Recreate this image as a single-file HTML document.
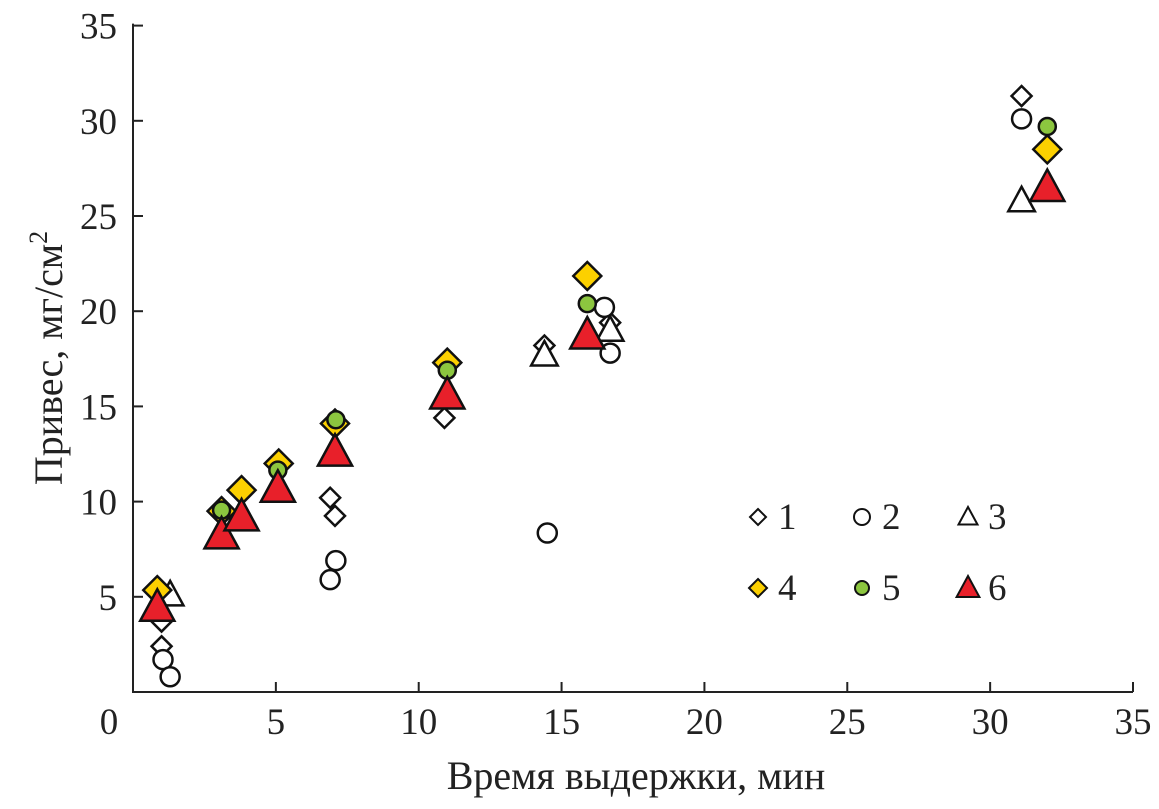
<!DOCTYPE html>
<html><head><meta charset="utf-8"><style>
body{margin:0;background:#fff}
svg text{font-family:"Liberation Serif",serif;fill:#222}
</style></head><body>
<svg id="chart" width="1159" height="804" viewBox="0 0 1159 804" xmlns="http://www.w3.org/2000/svg">
<g id="axes"></g>
<g id="marks"></g>
<text x="636" y="789" font-size="40" text-anchor="middle">Время выдержки, мин</text>
<text transform="translate(62,358) rotate(-90)" font-size="40" text-anchor="middle">Привес, мг/см<tspan dy="-15" font-size="26">2</tspan></text>
<g id="legend"></g>
</svg>
<script>
const xTicks=[0,5,10,15,20,25,30,35];
const yTicks=[5,10,15,20,25,30,35];
const s1x=[1.0,1.0,6.9,7.07,10.9,14.4,16.7,31.1];
const s1y=[3.7,2.4,10.2,9.25,14.4,18.2,19.4,31.3];
const s2x=[1.05,1.3,6.9,7.1,14.5,16.5,16.7,31.1];
const s2y=[1.7,0.8,5.9,6.9,8.35,20.2,17.8,30.1];
const s3x=[1.3,14.4,16.7,31.1];
const s3y=[5.1,17.7,19.0,25.8];
const s4x=[0.85,3.1,3.8,5.1,7.07,11.0,15.9,32.0];
const s4y=[5.35,9.5,10.6,12.0,14.1,17.3,21.85,28.5];
const s5x=[3.1,5.07,7.1,11.0,15.9,32.0];
const s5y=[9.55,11.65,14.3,16.9,20.4,29.7];
const s6x=[0.85,3.1,3.8,5.07,7.07,11.0,15.9,32.0];
const s6y=[4.45,8.25,9.2,10.7,12.6,15.6,18.75,26.5];
const NS="http://www.w3.org/2000/svg";
const X=v=>133+v*(1000/35);
const Y=v=>692-v*(95.2/5);
function mk(tag,attrs,parent){const e=document.createElementNS(NS,tag);for(const k in attrs)e.setAttribute(k,attrs[k]);parent.appendChild(e);return e;}
const axes=document.getElementById('axes');
let l=mk('path',{d:`M${X(0)},${Y(35)-2}V${Y(0)}H${X(35)}`,fill:'none',stroke:'#222','stroke-width':2},axes);


xTicks.forEach(t=>{
 const tk=mk('line',{x1:X(t),x2:X(t),y1:Y(0),y2:Y(0)-10,stroke:'#222','stroke-width':2},axes);
 
 
 const tx=mk('text',{x:t===0?X(t)-24:X(t),y:734,'font-size':37,'text-anchor':'middle'},axes);tx.textContent=t;
 
 
});
yTicks.forEach(t=>{
 const tk=mk('line',{x1:X(0),x2:X(0)+10,y1:Y(t),y2:Y(t),stroke:'#222','stroke-width':2},axes);
 
 
 const tx=mk('text',{x:X(0)-16,y:Y(t)+13,'font-size':37,'text-anchor':'end'},axes);tx.textContent=t;
 
 
});
function shape(type,cx,cy,fill,size,parent){
 let e;
 if(type==='d'){e=mk('path',{d:`M${cx},${cy-size}L${cx+size},${cy}L${cx},${cy+size}L${cx-size},${cy}Z`},parent);}
 else if(type==='c'){e=mk('circle',{cx:cx,cy:cy,r:size},parent);}
 else {e=mk('path',{d:`M${cx},${cy-size}L${cx+size*0.95},${cy+size*0.75}L${cx-size*0.95},${cy+size*0.75}Z`},parent);}
 e.setAttribute('fill',fill);e.setAttribute('stroke','#111');e.setAttribute('stroke-width',2.5);
 return e;
}
const marks=document.getElementById('marks');
const series=[
 [s1x,s1y,'d','#fff',10,'series-1'],
 [s2x,s2y,'c','#fff',9.5,'series-2'],
 [s3x,s3y,'t','#fff',14,'series-3'],
 [s4x,s4y,'d','#fcd000',14,'series-4'],
 [s5x,s5y,'c','#8cc63f',8.5,'series-5'],
 [s6x,s6y,'t','#e8202a',18,'series-6']];
series.forEach(s=>{s[0].forEach((x,i)=>{
 const e=shape(s[2],X(x),Y(s[1][i]),s[3],s[4],marks);
 
 
});});
const leg=document.getElementById('legend');
const legPos=[[758,517],[862,517],[968,517],[758,588],[862,588],[968,588]];
const legSize=[8,8,10,9,7,12];
series.forEach((s,i)=>{
 const [lx,ly]=legPos[i];
 const e=shape(s[2],lx,ly,s[3],legSize[i],leg);
 e.setAttribute('stroke-width',2);
 
 
 const t=mk('text',{x:lx+20,y:ly+12,'font-size':37},leg);t.textContent=i+1;
 
 
});
</script>
</body></html>
